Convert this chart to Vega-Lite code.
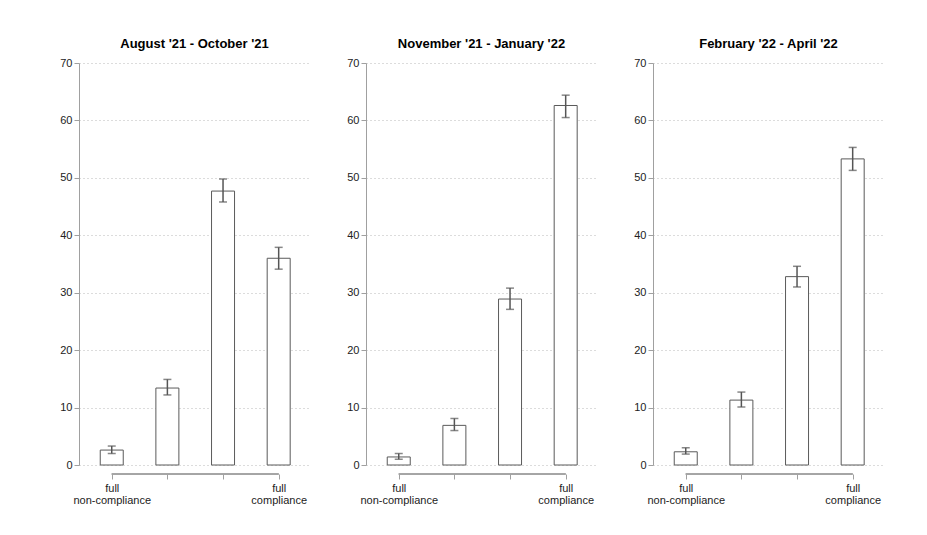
{
  "$schema": "https://vega.github.io/schema/vega-lite/v6.json",
  "padding": {"left": 59, "top": 38, "right": 5, "bottom": 5},
  "data": {"values": [
    {"period": "August '21 - October '21", "cat": 1, "value": 2.6, "lo": 2.0, "hi": 3.3},
    {"period": "August '21 - October '21", "cat": 2, "value": 13.4, "lo": 12.2, "hi": 14.9},
    {"period": "August '21 - October '21", "cat": 3, "value": 47.7, "lo": 45.8, "hi": 49.8},
    {"period": "August '21 - October '21", "cat": 4, "value": 36.0, "lo": 34.1, "hi": 37.9},
    {"period": "November '21 - January '22", "cat": 1, "value": 1.4, "lo": 1.0, "hi": 2.0},
    {"period": "November '21 - January '22", "cat": 2, "value": 6.9, "lo": 6.0, "hi": 8.1},
    {"period": "November '21 - January '22", "cat": 3, "value": 28.9, "lo": 27.1, "hi": 30.8},
    {"period": "November '21 - January '22", "cat": 4, "value": 62.6, "lo": 60.5, "hi": 64.4},
    {"period": "February '22 - April '22", "cat": 1, "value": 2.3, "lo": 1.9, "hi": 3.0},
    {"period": "February '22 - April '22", "cat": 2, "value": 11.3, "lo": 10.1, "hi": 12.7},
    {"period": "February '22 - April '22", "cat": 3, "value": 32.8, "lo": 31.0, "hi": 34.6},
    {"period": "February '22 - April '22", "cat": 4, "value": 53.3, "lo": 51.3, "hi": 55.3}
  ]},
  "facet": {
    "column": {
      "field": "period", "type": "nominal",
      "sort": ["August '21 - October '21", "November '21 - January '22", "February '22 - April '22"],
      "title": null,
      "header": {"labelFontSize": 13, "labelFontWeight": "bold", "labelFont": "Liberation Sans", "labelColor": "#000000", "labelPadding": 12}
    }
  },
  "spacing": 56,
  "bounds": "flush",
  "resolve": {"axis": {"y": "independent", "x": "independent"}},
  "spec": {
    "width": 231,
    "height": 402,
    "encoding": {
      "x": {
        "field": "cat", "type": "quantitative",
        "scale": {"domain": [0.5015, 4.473], "zero": false, "nice": false},
        "axis": {
          "values": [1, 2, 3, 4], "title": null, "grid": false, "offset": 9, "domain": false,
          "labelExpr": "datum.value == 1 ? ['full', 'non-compliance'] : datum.value == 4 ? ['full', 'compliance'] : ''",
          "tickColor": "#a0a0a0", "tickSize": 5,
          "labelFontSize": 11, "labelLineHeight": 12, "labelColor": "#222222", "labelPadding": 3
        }
      }
    },
    "layer": [
      {
        "mark": {"type": "bar", "size": 23, "fill": "#ffffff", "stroke": "#5a5a5a", "strokeWidth": 1},
        "encoding": {
          "y": {
            "field": "value", "type": "quantitative",
            "scale": {"domain": [0, 70], "nice": false},
            "axis": {
              "values": [0, 10, 20, 30, 40, 50, 60, 70], "title": null,
              "grid": true, "gridDash": [1, 3], "gridColor": "#b8b8b8",
              "domainColor": "#a0a0a0", "tickColor": "#a0a0a0", "tickSize": 5,
              "labelFontSize": 11, "labelColor": "#222222", "labelPadding": 2
            }
          }
        }
      },
      {
        "mark": {"type": "rule", "color": "#a0a0a0", "strokeWidth": 1, "clip": false},
        "encoding": {
          "x": {"datum": 1, "type": "quantitative"},
          "x2": {"datum": 4},
          "y": {"datum": -1.57, "type": "quantitative"}
        }
      },
      {
        "mark": {"type": "rule", "color": "#555555", "strokeWidth": 1.5},
        "encoding": {
          "y": {"field": "lo", "type": "quantitative"},
          "y2": {"field": "hi"}
        }
      },
      {
        "mark": {"type": "tick", "orient": "horizontal", "size": 8, "thickness": 1.5, "color": "#555555"},
        "encoding": {"y": {"field": "lo", "type": "quantitative"}}
      },
      {
        "mark": {"type": "tick", "orient": "horizontal", "size": 8, "thickness": 1.5, "color": "#555555"},
        "encoding": {"y": {"field": "hi", "type": "quantitative"}}
      }
    ]
  },
  "config": {
    "font": "Liberation Sans",
    "view": {"stroke": null},
    "background": "#ffffff"
  }
}
